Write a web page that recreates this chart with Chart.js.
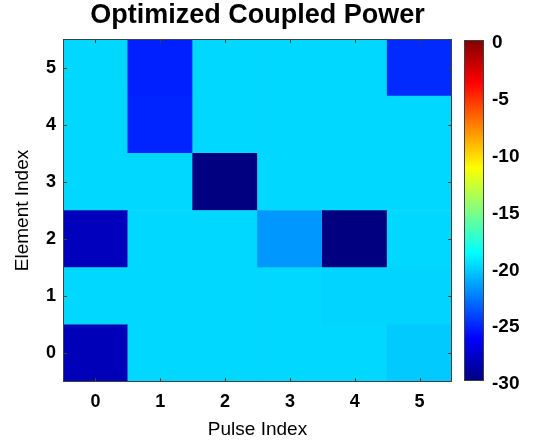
<!DOCTYPE html>
<html>
<head>
<meta charset="utf-8">
<script src="https://cdn.jsdelivr.net/npm/chart.js@4"></script>
<style>
  html, body { margin: 0; padding: 0; background: #fff; }
  #wrap { position: relative; width: 534px; height: 440px; }
  #heat { position: absolute; left: 0; top: 0; }
  #cbar { position: absolute; left: 455px; top: 0; }
</style>
</head>
<body>
<div id="wrap">
  <canvas id="heat" width="534" height="440"></canvas>
  <canvas id="cbar" width="79" height="440"></canvas>
</div>
<script>
// pulse index along x, element index along y
const pulses = ["0", "1", "2", "3", "4", "5"];
const elements = [0, 1, 2, 3, 4, 5];

// coupled power (dB), one row per element, one column per pulse
const row0 = [-28.3, -19.9, -19.9, -19.9, -19.9, -20.3];
const row1 = [-19.9, -19.9, -19.9, -19.9, -20.0, -20.0];
const row2 = [-28.2, -19.9, -19.9, -21.8, -30.0, -19.9];
const row3 = [-19.9, -19.9, -30.0, -19.9, -19.9, -19.9];
const row4 = [-19.9, -25.2, -19.9, -19.9, -19.9, -19.9];
const row5 = [-19.9, -25.3, -19.9, -19.9, -19.9, -25.0];
const rows = [row0, row1, row2, row3, row4, row5];

const cMin = -30, cMax = 0;
const cTicks = [-30, -25, -20, -15, -10, -5, 0];

const TITLE = "Optimized Coupled Power";
const FONT = "'Liberation Sans', Arial, sans-serif";
const EDGE = "#404040";

// jet colormap
function jet(v) {
  let t = (v - cMin) / (cMax - cMin);
  t = Math.max(0, Math.min(1, t));
  const c = x => Math.round(255 * Math.max(0, Math.min(1, x)));
  const r = c(1.5 - Math.abs(4 * t - 3));
  const g = c(1.5 - Math.abs(4 * t - 2));
  const b = c(1.5 - Math.abs(4 * t - 1));
  return `rgb(${r},${g},${b})`;
}

// title centred over the plot area rather than the whole canvas
const plotTitle = {
  id: "plotTitle",
  afterDraw(chart) {
    const { ctx, chartArea: a } = chart;
    ctx.save();
    ctx.fillStyle = "#000";
    ctx.font = `bold 27px ${FONT}`;
    ctx.textAlign = "center";
    ctx.textBaseline = "middle";
    ctx.fillText(TITLE, (a.left + a.right) / 2, 16);
    ctx.restore();
  }
};

// axes box with inward ticks on all four sides
const boxTicks = {
  id: "boxTicks",
  afterDatasetsDraw(chart) {
    const { ctx, chartArea: a, scales } = chart;
    const len = 4;
    ctx.save();
    ctx.strokeStyle = EDGE;
    ctx.lineWidth = 1;
    ctx.beginPath();
    scales.x.ticks.forEach((t, i) => {
      const x = Math.round(scales.x.getPixelForTick(i)) + 0.5;
      ctx.moveTo(x, a.top); ctx.lineTo(x, a.top + len);
      ctx.moveTo(x, a.bottom); ctx.lineTo(x, a.bottom - len);
    });
    scales.y.ticks.forEach(t => {
      const y = Math.round(scales.y.getPixelForValue(t.value)) + 0.5;
      ctx.moveTo(a.left, y); ctx.lineTo(a.left + len, y);
      ctx.moveTo(a.right, y); ctx.lineTo(a.right - len, y);
    });
    ctx.stroke();
    ctx.strokeRect(Math.round(a.left) + 0.5, Math.round(a.top) + 0.5,
      Math.round(a.right - a.left) - 1, Math.round(a.bottom - a.top) - 1);
    ctx.restore();
  }
};

// each element row is a set of floating bars spanning [e-0.5, e+0.5]
const datasets = rows.map((vals, e) => ({
  label: "Element " + elements[e],
  data: vals.map(() => [elements[e] - 0.5, elements[e] + 0.5]),
  backgroundColor: vals.map(jet),
  borderWidth: 0,
  barPercentage: 1,
  categoryPercentage: 1,
  grouped: false
}));

new Chart(document.getElementById("heat"), {
  type: "bar",
  data: { labels: pulses, datasets },
  options: {
    responsive: false,
    animation: false,
    layout: { padding: { left: 0, right: 82, top: 39, bottom: 0 } },
    plugins: {
      legend: { display: false },
      tooltip: { enabled: false },
      title: { display: false }
    },
    scales: {
      x: {
        grid: { display: false, drawTicks: false },
        border: { display: false },
        ticks: { color: "#000", font: { family: FONT, size: 18, weight: "bold" }, padding: 9 },
        title: { display: true, text: "Pulse Index", color: "#000", font: { family: FONT, size: 19 }, padding: { top: 8, bottom: -1 } },
        afterFit: s => { s.height = 58; }
      },
      y: {
        type: "linear",
        min: -0.5,
        max: 5.5,
        grid: { display: false, drawTicks: false },
        border: { display: false },
        afterBuildTicks: s => { s.ticks = elements.map(v => ({ value: v })); },
        ticks: { color: "#000", font: { family: FONT, size: 18, weight: "bold" }, padding: 7 },
        title: { display: true, text: "Element Index", color: "#000", font: { family: FONT, size: 19 }, padding: { top: 11, bottom: 0 } },
        afterFit: s => { s.width = 63; }
      }
    }
  },
  plugins: [boxTicks, plotTitle]
});

// colour bar: one bar from cMin to cMax filled with the jet gradient
const cbarFrame = {
  id: "cbarFrame",
  afterDatasetsDraw(chart) {
    const { ctx, chartArea: a } = chart;
    ctx.save();
    ctx.strokeStyle = EDGE;
    ctx.lineWidth = 1;
    ctx.strokeRect(Math.round(a.left) + 0.5, Math.round(a.top) + 0.5,
      Math.round(a.right - a.left) - 1, Math.round(a.bottom - a.top) - 1);
    ctx.restore();
  }
};

new Chart(document.getElementById("cbar"), {
  type: "bar",
  data: {
    labels: ["dB"],
    datasets: [{
      data: [[cMin, cMax]],
      backgroundColor: ctx => {
        const { chart } = ctx;
        const a = chart.chartArea;
        if (!a) return "#000";
        const g = chart.ctx.createLinearGradient(0, a.bottom, 0, a.top);
        for (let i = 0; i <= 40; i++) {
          const f = i / 40;
          g.addColorStop(f, jet(cMin + f * (cMax - cMin)));
        }
        return g;
      },
      borderWidth: 0,
      barPercentage: 1,
      categoryPercentage: 1
    }]
  },
  options: {
    responsive: false,
    animation: false,
    layout: { padding: { left: 9, right: 0, top: 40, bottom: 59 } },
    plugins: { legend: { display: false }, tooltip: { enabled: false } },
    scales: {
      x: { display: false },
      y: {
        position: "right",
        min: cMin,
        max: cMax,
        grid: { display: false, drawTicks: false },
        border: { display: false },
        afterBuildTicks: s => { s.ticks = cTicks.map(v => ({ value: v })); },
        ticks: { color: "#000", font: { family: FONT, size: 19, weight: "bold" }, padding: 8, labelOffset: 3 },
        afterFit: s => { s.width = 50; }
      }
    }
  },
  plugins: [cbarFrame]
});
</script>
</body>
</html>
